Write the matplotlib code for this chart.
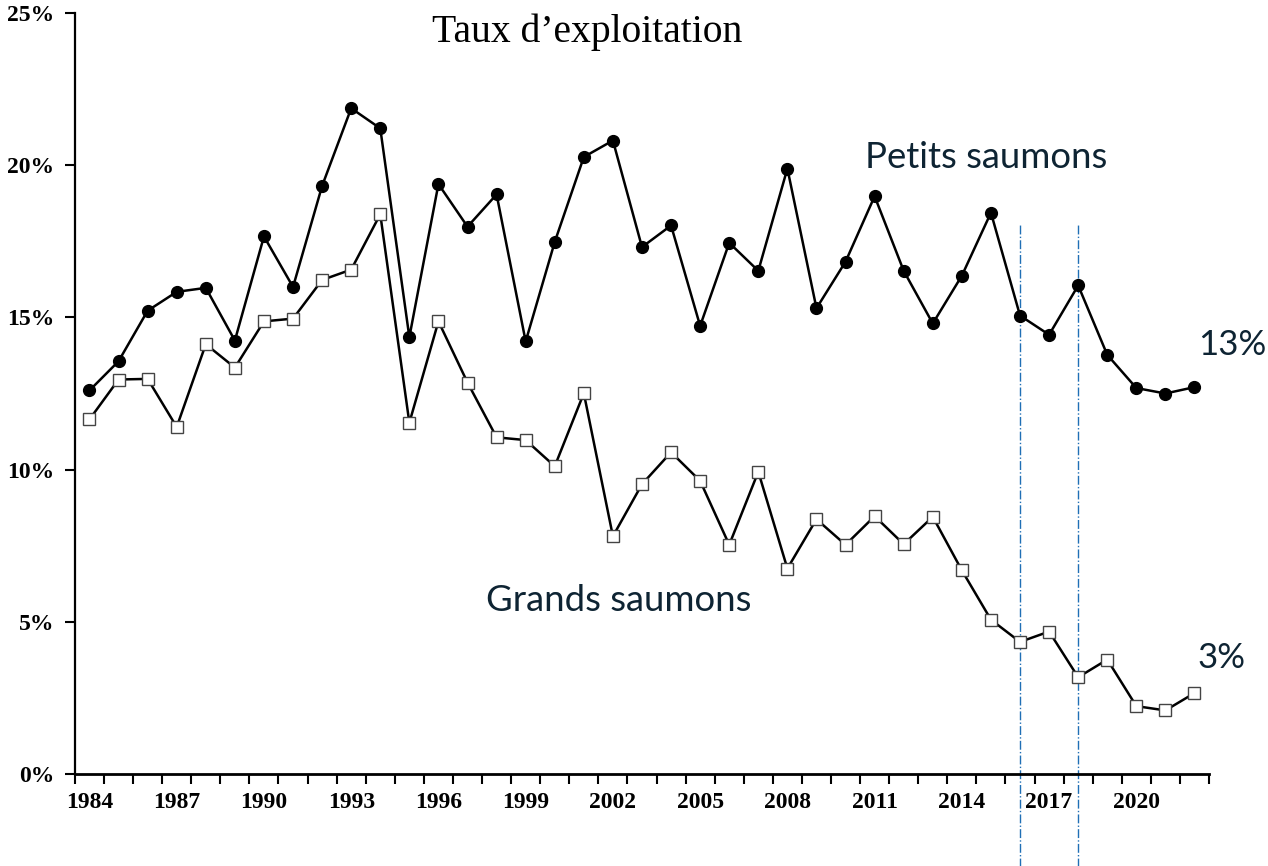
import numpy as np
import matplotlib
matplotlib.use('Agg')
import matplotlib.pyplot as plt

# exploitation rate (%)
years = list(range(1984, 2023))

petits = [12.6, 13.56, 15.22, 15.84, 15.97, 14.24, 17.66, 16.0, 19.32, 21.87,
          21.21, 14.35, 19.38, 17.98, 19.04, 14.21, 17.48, 20.27, 20.81, 17.31,
          18.02, 14.72, 17.45, 16.53, 19.89, 15.3, 16.83, 18.98, 16.53, 14.8,
          16.37, 18.44, 15.06, 14.43, 16.05, 13.77, 12.68, 12.5, 12.71]

grands = [11.65, 12.96, 12.98, 11.4, 14.12, 13.35, 14.87, 14.96, 16.23, 16.57,
          18.39, 11.54, 14.87, 12.86, 11.06, 10.97, 10.11, 12.51, 7.81, 9.52,
          10.57, 9.63, 7.53, 9.93, 6.75, 8.37, 7.53, 8.47, 7.55, 8.45,
          6.69, 5.07, 4.34, 4.68, 3.18, 3.76, 2.23, 2.09, 2.66]

label_years = list(range(1984, 2021, 3))
y_ticks = [0, 5, 10, 15, 20, 25]
ref_years = [2016, 2018]

fig = plt.figure(figsize=(12.68, 8.66), dpi=100)
ax = fig.add_axes([0.0591, 0.1062, 0.8944, 0.8788])

ax.plot(years, petits, color='black', lw=1.8, marker='o', ms=8.5,
        mfc='black', mec='black', zorder=3)
ax.plot(years, grands, color='black', lw=1.8, marker='s', ms=8,
        mfc='white', mec='#444444', mew=1.0, zorder=3)

# dash-dot reference lines, running past the bottom of the axes
for yr in ref_years:
    ax.plot([yr, yr], [-3.1, 18.1], color='#1F6FB5', lw=1.0, ls='-.',
            clip_on=False, zorder=2)

ax.set_xlim(1983.5, 2022.5)
ax.set_ylim(0, 25)

# category axis: ticks between years, labels under every third year
ax.set_xticks(np.arange(1983.5, 2023, 1.0))
ax.set_xticklabels([])
ax.tick_params(axis='x', which='major', direction='out', length=7, width=1.5)
ax.set_xticks(label_years, minor=True)
ax.set_xticklabels([str(y) for y in label_years], minor=True,
                   family='Liberation Serif', fontweight='bold', fontsize=17)
ax.tick_params(axis='x', which='minor', length=0, pad=13)

ax.set_yticks(y_ticks)
ax.set_yticklabels([f'{v}%' for v in y_ticks], family='Liberation Serif',
                   fontweight='bold', fontsize=17)
ax.tick_params(axis='y', direction='out', length=7, width=1.5, pad=8)

for s in ['top', 'right']:
    ax.spines[s].set_visible(False)
ax.spines['left'].set_linewidth(1.6)
ax.spines['bottom'].set_linewidth(2.0)

txt_col = '#0E2433'
fig.text(0.463, 0.963, 'Taux d\u2019exploitation', family='Liberation Serif',
         fontsize=28.5, ha='center', va='center', color='black')
ax.text(2014.83, 20.24, 'Petits saumons', family='Lato', fontsize=26.3,
        color=txt_col, ha='center', va='center')
ax.text(2002.2, 5.7, 'Grands saumons', family='Lato', fontsize=26.3,
        color=txt_col, ha='center', va='center')
ax.text(2022.12, 14.1, '13%', family='Lato', fontsize=25,
        color=txt_col, ha='left', va='center')
ax.text(2022.12, 3.8, '3%', family='Lato', fontsize=25,
        color=txt_col, ha='left', va='center')

fig.savefig('out.png', dpi=100)
